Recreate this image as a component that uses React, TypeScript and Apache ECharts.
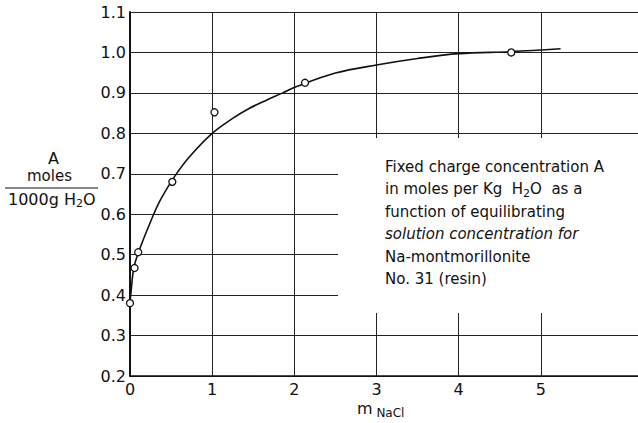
import React, { useEffect, useRef } from "react";
import * as echarts from "echarts";

// Measured points: NaCl molality vs fixed charge concentration A
const pointM = [0, 0.055, 0.1, 0.515, 1.028, 2.13, 4.64];
const pointA = [0.38, 0.467, 0.506, 0.68, 0.852, 0.925, 1.0];

// Hand-drawn fitted curve through the data
const curveM = [0, 0.015, 0.046, 0.107, 0.278, 0.38, 0.542, 0.724, 1.0, 1.25, 1.455, 1.66, 1.86, 2.02, 2.5, 3.0, 3.5, 4.0, 4.64, 5.24];
const curveA = [0.383, 0.413, 0.467, 0.508, 0.595, 0.639, 0.693, 0.742, 0.8, 0.837, 0.862, 0.882, 0.9, 0.915, 0.949, 0.969, 0.985, 0.997, 1.002, 1.009];

// Axis ticks
const xGridValues = [1, 2, 3, 4, 5];
const yMin = 0.2;
const yMax = 1.1;
const yStep = 0.1;
const xMin = 0;
const xMax = 6.207;

const noteLines = [
  "Fixed charge concentration A",
  "in moles per Kg  H{s|2}O  as a",
  "function of equilibrating",
  "{i|solution concentration for}",
  "Na-montmorillonite",
  "No. 31 (resin)",
];

const FONT = "DejaVu Sans";
const INK = "#111";

export default function App() {
  const ref = useRef<HTMLDivElement>(null);

  useEffect(() => {
    if (!ref.current) return;
    const chart = echarts.init(ref.current, null, { renderer: "svg" });

    const noteGraphics = noteLines.map((t, i) => ({
      type: "text",
      left: 385,
      top: 173 + i * 22.5 - 14,
      z: 101,
      style: {
        text: t,
        font: `15px "${FONT}"`,
        fill: INK,
        rich: {
          s: { fontSize: 11, fontFamily: FONT, padding: [9, 0, 0, 0], fill: INK },
          i: { fontSize: 15, fontFamily: FONT, fontStyle: "italic", fill: INK },
        },
      },
    }));

    chart.setOption({
      animation: false,
      backgroundColor: "#fff",
      grid: { left: 130, right: -2, top: 12, bottom: 47, outerBoundsMode: "none" },
      xAxis: {
        type: "value",
        min: xMin,
        max: xMax,
        interval: 1,
        axisLine: { show: true, onZero: false, lineStyle: { color: INK, width: 1.6 } },
        axisTick: { show: false },
        splitLine: { show: false },
        axisLabel: {
          color: INK,
          fontFamily: FONT,
          fontSize: 16,
          margin: 5,
          showMaxLabel: false,
          formatter: (v: number) => (v <= 5 ? String(v) : ""),
        },
      },
      yAxis: {
        type: "value",
        min: yMin,
        max: yMax,
        interval: yStep,
        axisLine: { show: true, lineStyle: { color: INK, width: 2 } },
        axisTick: { show: false },
        splitLine: { show: true, lineStyle: { color: "#222", width: 1 } },
        axisLabel: {
          color: INK,
          fontFamily: FONT,
          fontSize: 16,
          margin: 4,
          formatter: (v: number) => v.toFixed(1),
        },
      },
      series: [
        {
          type: "line",
          data: curveM.map((m, i) => [m, curveA[i]]),
          showSymbol: false,
          smooth: 0.35,
          lineStyle: { color: INK, width: 1.6 },
          z: 3,
          silent: true,
          markLine: {
            silent: true,
            symbol: ["none", "none"],
            label: { show: false },
            lineStyle: { color: "#222", width: 1, type: "solid" },
            data: xGridValues.map((v) => ({ xAxis: v })),
            z: 1,
          },
        },
        {
          type: "scatter",
          data: pointM.map((m, i) => [m, pointA[i]]),
          symbol: "circle",
          symbolSize: 7,
          itemStyle: { color: "#fff", borderColor: INK, borderWidth: 1.3, opacity: 1 },
          z: 5,
          silent: true,
        },
      ],
      graphic: [
        // blank panel behind the note
        {
          type: "rect",
          z: 100,
          shape: { x: 338, y: 138, width: 300, height: 175 },
          style: { fill: "#fff" },
          silent: true,
        },
        ...noteGraphics,
        // y-axis title: A, moles / 1000 g H2O
        {
          type: "text",
          left: 48,
          top: 150,
          z: 101,
          style: { text: "A", font: `16px "${FONT}"`, fill: INK },
        },
        {
          type: "text",
          left: 27,
          top: 168,
          z: 101,
          style: { text: "moles", font: `15px "${FONT}"`, fill: INK },
        },
        {
          type: "line",
          z: 101,
          shape: { x1: 5, y1: 188, x2: 98, y2: 188 },
          style: { stroke: INK, lineWidth: 1.2 },
        },
        {
          type: "text",
          left: 8,
          top: 191,
          z: 101,
          style: {
            text: "1000g H{s|2}O",
            font: `16px "${FONT}"`,
            fill: INK,
            rich: { s: { fontSize: 11, fontFamily: FONT, padding: [9, 0, 0, 0], fill: INK } },
          },
        },
        // x-axis title: m NaCl
        {
          type: "text",
          left: 357,
          top: 400,
          z: 101,
          style: {
            text: "m{s| NaCl}",
            font: `16px "${FONT}"`,
            fill: INK,
            rich: { s: { fontSize: 12, fontFamily: FONT, padding: [10, 0, 0, 0], fill: INK } },
          },
        },
      ],
    });

    return () => chart.dispose();
  }, []);

  return (
    <div
      ref={ref}
      style={{ position: "fixed", left: 0, top: 0, width: 638, height: 423 }}
    />
  );
}
